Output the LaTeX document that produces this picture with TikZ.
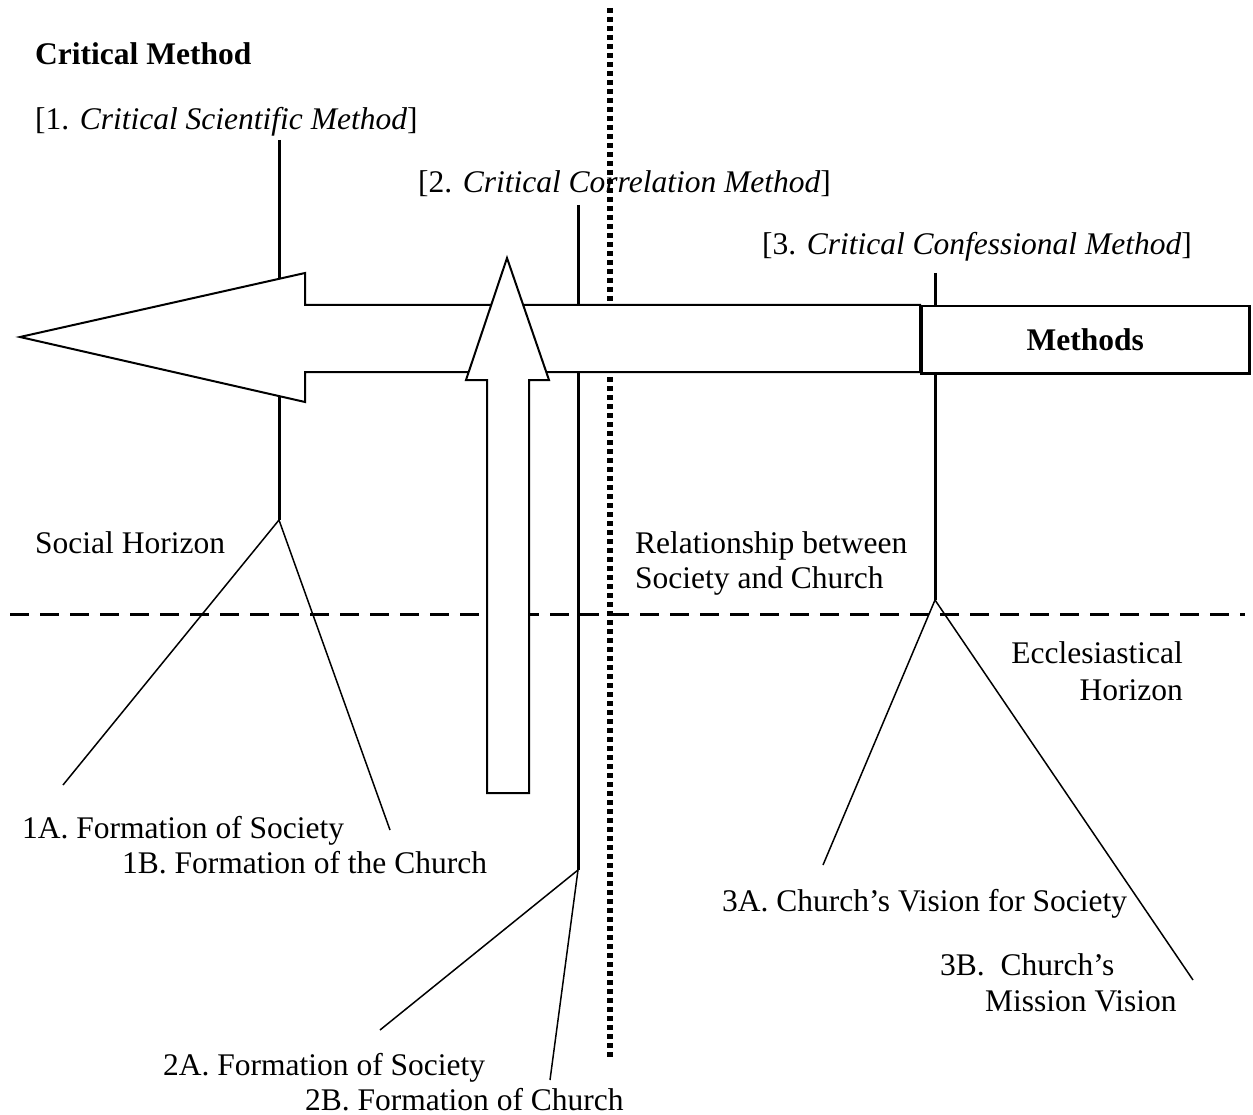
\documentclass[tikz,border=0pt]{standalone}
\usepackage{fontspec}
\setmainfont{Liberation Serif}
\begin{document}
\begin{tikzpicture}[x=1pt,y=-1pt,
  txt/.style={inner sep=0pt,anchor=base west,font=\fontsize{31.5}{36}\selectfont},
  txtr/.style={txt,anchor=base east},
  axis/.style={line width=3pt},
  branch/.style={line width=1.5pt},
  outline/.style={line width=2pt,fill=white,line join=miter}]
\useasboundingbox (0,0) rectangle (1253,1115);

% anchor points of the three method axes
\coordinate (t1) at (279,140);  \coordinate (b1) at (279,520);
\coordinate (t2) at (578,205);  \coordinate (b2) at (578,870);
\coordinate (t3) at (935,273);  \coordinate (b3) at (935,600);
\coordinate (dtop) at (610,8);  \coordinate (dbot) at (610,1058);
\coordinate (hl) at (10,614);   \coordinate (hr) at (1245,614);

% background lines
\draw[axis] (t1) -- (b1);
\draw[axis] (t2) -- (b2);
\draw[axis] (t3) -- (b3);
\draw[line width=5.5pt,dash pattern=on 5pt off 4pt] (dtop) -- (dbot);
\draw[line width=3pt,dash pattern=on 19pt off 11pt] (hl) -- (hr);

% large arrow pointing left
\draw[outline] (20,337) -- (305,273) -- (305,305) -- (920,305) -- (920,372)
  -- (305,372) -- (305,402) -- cycle;
\node[draw,line width=2.5pt,fill=white,minimum width=328pt,minimum height=67pt,
  inner sep=0pt,anchor=north west,font=\fontsize{31.5}{36}\selectfont\bfseries]
  (methods) at (920,305) {Methods};

% upward arrow
\draw[outline] (507,258) -- (549,380) -- (529,380) -- (529,793) -- (487,793)
  -- (487,380) -- (466,380) -- cycle;

% branches
\coordinate (e1a) at (63,785);  \coordinate (e1b) at (390,830);
\coordinate (e2a) at (380,1030); \coordinate (e2b) at (550,1080);
\coordinate (e3a) at (823,865); \coordinate (e3b) at (1193,980);
\draw[branch] (b1) -- (e1a);
\draw[branch] (b1) -- (e1b);
\draw[branch] (b2) -- (e2a);
\draw[branch] (b2) -- (e2b);
\draw[branch] (b3) -- (e3a);
\draw[branch] (b3) -- (e3b);

% labels
\node[txt,font=\fontsize{31.5}{36}\selectfont\bfseries] (crit) at (35,65) {Critical Method};
\node[txt] (m1) at (35,130) {[1. \textit{Critical Scientific Method}]};
\node[txt] (m2) at (418,193) {[2. \textit{Critical Correlation Method}]};
\node[txt] (m3) at (762,255) {[3. \textit{Critical Confessional Method}]};
\node[txt] (soc) at (35,553) {Social Horizon};
\node[txt] (rel1) at (635,553) {Relationship between};
\node[txt] (rel2) at (635,588) {Society and Church};
\node[txtr] (ecc1) at (1183,663) {Ecclesiastical};
\node[txtr] (ecc2) at (1183,700) {Horizon};
\node[txt] (l1a) at (22,838) {1A. Formation of Society};
\node[txt] (l1b) at (122,873) {1B. Formation of the Church};
\node[txt] (l3a) at (722,911) {3A. Church’s Vision for Society};
\node[txt] (l3b1) at (940,975) {3B.\ \ Church’s};
\node[txt] (l3b2) at (985,1011) {Mission Vision};
\node[txt] (l2a) at (163,1075) {2A. Formation of Society};
\node[txt] (l2b) at (305,1110) {2B. Formation of Church};
\end{tikzpicture}
\end{document}
